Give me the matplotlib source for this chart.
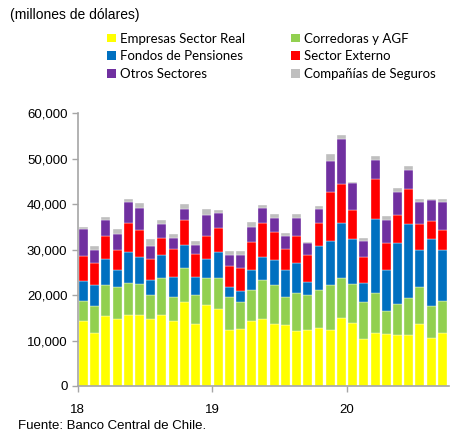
import numpy as np
import matplotlib
matplotlib.use("Agg")
from matplotlib import pyplot as plt
from matplotlib.ticker import FuncFormatter
from matplotlib.patches import Patch

# monthly, Jan 2018 - Sep 2020 (millones de dolares)
year_labels = ["18", "19", "20"]

empresas = [14200, 11700, 15300, 14700, 15500, 15500, 14700, 15500, 14200, 18400, 13600, 17800,
            16900, 12300, 12500, 14200, 14700, 13700, 13400, 12000, 12300, 12800, 12300, 15000,
            13900, 10300, 11600, 11400, 11100, 11100, 13600, 10500, 11600]
corredoras = [4400, 5800, 6800, 7100, 7100, 6900, 5200, 8300, 5300, 7600, 6500, 6000,
              6900, 7200, 5900, 7000, 8700, 8600, 6100, 8400, 7800, 8400, 9800, 8700,
              8500, 8200, 8800, 5100, 6900, 8200, 8100, 7100, 7100]
fondos = [4500, 4800, 5800, 3700, 6800, 5900, 3500, 5000, 4500, 5000, 3900, 4100,
          5600, 2200, 2500, 4400, 4900, 5400, 6000, 6700, 2800, 9600, 9800, 12100,
          9800, 4100, 16300, 9000, 13400, 16400, 8300, 14600, 11300]
externo = [5400, 4800, 5100, 4400, 6400, 5900, 4500, 3800, 6100, 5500, 5100, 5100,
           5300, 4600, 5000, 6000, 7500, 6200, 4600, 5900, 5900, 5000, 10700, 8700,
           6500, 5700, 8700, 5900, 6100, 7500, 5700, 4000, 4200]
otros = [6000, 2800, 3400, 3500, 4600, 5000, 2800, 3000, 2500, 2300, 1900, 4500,
         3300, 2400, 2900, 3300, 3400, 3000, 2800, 3900, 2600, 3100, 6800, 9700,
         5900, 3500, 4200, 5100, 5200, 4200, 4800, 4600, 6200]
seguros = [500, 800, 800, 1100, 800, 1100, 1600, 900, 700, 1300, 900, 1400,
           700, 900, 800, 1200, 600, 900, 700, 900, 300, 700, 1700, 900,
           300, 700, 900, 800, 900, 900, 600, 300, 700]

series = [
    ("Empresas Sector Real", empresas, "#FFFF00"),
    ("Corredoras y AGF", corredoras, "#92D050"),
    ("Fondos de Pensiones", fondos, "#0070C0"),
    ("Sector Externo", externo, "#FF0000"),
    ("Otros Sectores", otros, "#7030A0"),
    ("Compañías de Seguros", seguros, "#BFBFBF"),
]

fig = plt.figure(figsize=(4.5, 4.34), dpi=100)
ax = fig.add_axes([0.173, 0.1106, 0.825, 0.629])

x = np.arange(len(empresas))
bottom = np.zeros(len(x))
handles = {}
for name, vals, col in series:
    vals = np.array(vals)
    ax.bar(x, vals, 0.8, bottom=bottom, color=col, edgecolor="white", linewidth=0.25)
    handles[name] = Patch(facecolor=col, edgecolor="none")
    bottom += vals

ax.set_xlim(-0.5, 32.6)
ax.set_ylim(0, 60000)
ax.set_yticks(np.arange(0, 60001, 10000))
ax.yaxis.set_major_formatter(FuncFormatter(lambda v, p: f"{int(v):,}"))
ax.set_xticks([-0.5, 11.5, 23.5])
ax.set_xticklabels(year_labels)

for s in ["top", "right"]:
    ax.spines[s].set_visible(False)
for s in ["left", "bottom"]:
    ax.spines[s].set_color("#A6A6A6")
    ax.spines[s].set_linewidth(1.2)
ax.tick_params(axis="both", colors="#A6A6A6", length=4, width=1, labelcolor="black",
               labelsize=9.5)
ax.tick_params(axis="x", pad=9)
for lbl in ax.get_xticklabels() + ax.get_yticklabels():
    lbl.set_family("Liberation Sans")

order = ["Empresas Sector Real", "Fondos de Pensiones", "Otros Sectores",
         "Corredoras y AGF", "Sector Externo", "Compañías de Seguros"]
fig.legend([handles[n] for n in order], order, ncol=2, loc="upper left",
           bbox_to_anchor=(0.238, 0.925), frameon=False, prop={"family": "Lato", "size": 9.5},
           handlelength=0.65, handleheight=0.65, handletextpad=0.35,
           labelspacing=0.45, columnspacing=3.45, borderpad=0, borderaxespad=0)

fig.text(0.022, 0.965, "(millones de dólares)", fontsize=10, family="Liberation Sans",
         va="center")
fig.text(0.04, 0.018, "Fuente: Banco Central de Chile.", fontsize=9.5,
         family="Liberation Sans", va="center")

fig.savefig("out.png", dpi=100)
